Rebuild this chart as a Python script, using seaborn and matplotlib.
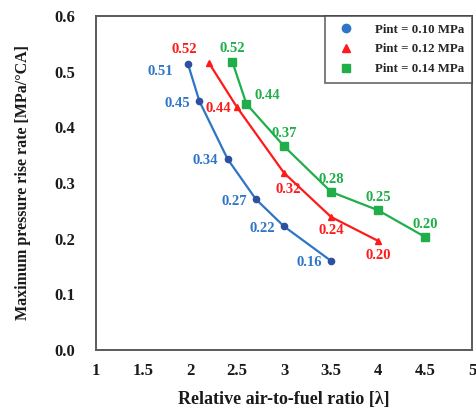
import matplotlib
matplotlib.use("Agg")
import matplotlib.pyplot as plt
from matplotlib.lines import Line2D
import seaborn as sns
import pandas as pd

# ---- data ----
lam_010 = [1.98, 2.1, 2.4, 2.7, 3.0, 3.5]
mprr_010 = [0.513, 0.447, 0.343, 0.271, 0.222, 0.160]
lam_012 = [2.2, 2.5, 3.0, 3.5, 4.0]
mprr_012 = [0.516, 0.436, 0.318, 0.239, 0.196]
lam_014 = [2.45, 2.6, 3.0, 3.5, 4.0, 4.5]
mprr_014 = [0.518, 0.442, 0.366, 0.284, 0.251, 0.203]
series_names = ["Pint = 0.10 MPa", "Pint = 0.12 MPa", "Pint = 0.14 MPa"]
x_ticks = [1, 1.5, 2, 2.5, 3, 3.5, 4, 4.5, 5]
y_ticks = [0.0, 0.1, 0.2, 0.3, 0.4, 0.5, 0.6]

sns.set_theme(style="white")
plt.rcParams["font.family"] = ["Liberation Serif", "DejaVu Serif"]
plt.rcParams["font.weight"] = "bold"

fig = plt.figure(figsize=(4.77, 4.08), dpi=100)
ax = fig.add_axes([0.201, 0.142, 0.789, 0.819])

line_colors = ["#2e75c6", "#ff1a1a", "#1fae4a"]
marker_colors = ["#2f4f9f", "#ff1a1a", "#1fae4a"]
markers = ["o", "^", "s"]
msizes = [4.5, 5, 5.5]

xs = [lam_010, lam_012, lam_014]
ys = [mprr_010, mprr_012, mprr_014]

# label offsets in pixels
offsets = [
    [(-28, -7), (-22, -2), (-22, -1), (-22, -2), (-22, -2), (-22, -2)],
    [(-24, 13), (-19, -1), (4, -17), (0, -14), (0, -15)],
    [(0, 13), (21, 8), (0, 13), (0, 12), (0, 13), (0, 13)],
]

for i in range(3):
    df = pd.DataFrame({"x": xs[i], "y": ys[i]})
    sns.lineplot(data=df, x="x", y="y", ax=ax, color=line_colors[i], lw=1.6,
                 sort=False, legend=False)
    ax.plot(xs[i], ys[i], linestyle="none", marker=markers[i], ms=msizes[i],
            color=marker_colors[i], zorder=3)
    for (xv, yv), (dx, dy) in zip(zip(xs[i], ys[i]), offsets[i]):
        ax.annotate(f"{yv:.2f}", (xv, yv), xytext=(dx, dy),
                    textcoords="offset pixels", ha="center", va="center",
                    color=line_colors[i], fontsize=10.5, fontweight="bold")

ax.set_xlim(1, 5)
ax.set_ylim(0, 0.6)
ax.set_xticks(x_ticks)
ax.set_xticklabels([f"{v:g}" for v in x_ticks])
ax.set_yticks(y_ticks)
ax.set_yticklabels([f"{v:.1f}" for v in y_ticks])
ax.tick_params(axis="both", length=0, labelsize=12, colors="#1a1a1a")
ax.tick_params(axis="x", pad=9)
ax.tick_params(axis="y", pad=15)
for lab in ax.get_xticklabels() + ax.get_yticklabels():
    lab.set_fontweight("bold")

for sp in ax.spines.values():
    sp.set_color("#5a5a5a")
    sp.set_linewidth(1.4)

ax.set_xlabel("Relative air-to-fuel ratio [λ]", fontsize=13,
              fontweight="bold", labelpad=9, color="#1a1a1a")
ax.set_ylabel("Maximum pressure rise rate [MPa/°CA]", fontsize=11.5,
              fontweight="bold", labelpad=17, color="#1a1a1a")

handles = [Line2D([], [], linestyle="none", marker=markers[i], ms=6,
                  color=line_colors[i]) for i in range(3)]
leg = ax.legend(handles, series_names, loc="upper right",
                frameon=True, fancybox=False, borderaxespad=0,
                handletextpad=1.3, borderpad=0.6, labelspacing=0.6,
                prop={"family": "Liberation Serif", "weight": "bold", "size": 9.3})
leg.get_frame().set_edgecolor("#404040")
leg.get_frame().set_linewidth(1.2)

fig.savefig("out.png", dpi=100)
